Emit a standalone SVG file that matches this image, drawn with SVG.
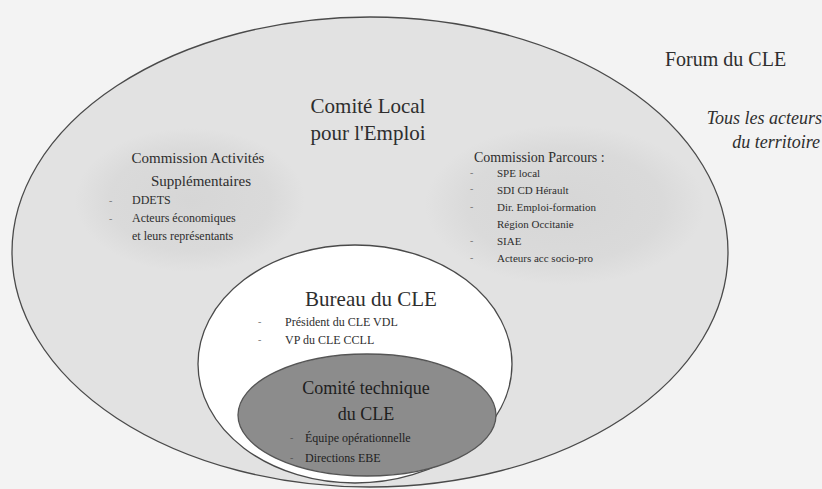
<svg xmlns="http://www.w3.org/2000/svg" width="822" height="489" viewBox="0 0 822 489" font-family="'Liberation Serif', 'Times New Roman', 'DejaVu Serif', serif">
<defs>
<radialGradient id="blob" cx="0.5" cy="0.5" r="0.5">
<stop offset="0" stop-color="#d6d6d6"/>
<stop offset="0.7" stop-color="#dadada"/>
<stop offset="1" stop-color="#e2e2e2"/>
</radialGradient>
</defs>
<style>
text{fill:#2e2e2e}
.h1{font-size:21px}
.h2{font-size:15px}
.h3{font-size:14px}
.it{font-size:18px;font-style:italic}
.li{font-size:12px}
.ls{font-size:11px}
.b{font-size:10px;fill:#777}
.c{text-anchor:middle}
.r{text-anchor:end}
</style>
<rect width="822" height="489" fill="#f3f3f3"/>
<g id="forum">
<text x="665" y="66" style="font-size:20px">Forum du CLE</text>
<text class="it r" x="822" y="124">Tous les acteurs</text>
<text class="it r" x="820" y="148">du territoire</text>
</g>
<g id="cle">
<ellipse cx="370" cy="252" rx="358" ry="235" fill="#e2e2e2" stroke="#4a4a4a" stroke-width="1.3"/>
<text class="h1 c" x="368" y="113">Comité Local</text>
<text class="h1 c" x="368" y="140">pour l'Emploi</text>
</g>
<g id="commission-activites">
<ellipse cx="190" cy="200" rx="115" ry="72" fill="url(#blob)"/>
<text class="h2 c" x="198" y="163">Commission Activités</text>
<text class="h2 c" x="201" y="186">Supplémentaires</text>
<text class="b" x="109" y="204">-</text>
<text class="li" x="132" y="204">DDETS</text>
<text class="b" x="109" y="222">-</text>
<text class="li" x="132" y="222">Acteurs économiques</text>
<text class="li" x="132" y="240">et leurs représentants</text>
</g>
<g id="commission-parcours">
<ellipse cx="565" cy="205" rx="140" ry="80" fill="url(#blob)"/>
<text class="h3" x="474" y="162">Commission Parcours :</text>
<text class="b" x="470" y="176">-</text>
<text class="ls" x="497" y="177">SPE local</text>
<text class="b" x="470" y="192">-</text>
<text class="ls" x="497" y="194">SDI CD Hérault</text>
<text class="b" x="470" y="210">-</text>
<text class="ls" x="497" y="211">Dir. Emploi-formation</text>
<text class="ls" x="497" y="228">Région Occitanie</text>
<text class="b" x="470" y="244">-</text>
<text class="ls" x="497" y="245">SIAE</text>
<text class="b" x="470" y="261">-</text>
<text class="ls" x="497" y="262">Acteurs acc socio-pro</text>
</g>
<g id="bureau">
<ellipse cx="355" cy="364" rx="157" ry="119" fill="#ffffff" stroke="#4a4a4a" stroke-width="1.3"/>
<text class="h1 c" x="371" y="306">Bureau du CLE</text>
<text class="b" x="258" y="325">-</text>
<text class="li" x="285" y="326">Président du CLE VDL</text>
<text class="b" x="258" y="343">-</text>
<text class="li" x="285" y="344">VP du CLE CCLL</text>
</g>
<g id="comite-technique">
<ellipse cx="367" cy="415" rx="129" ry="61" fill="#8c8c8c" stroke="#555" stroke-width="1.3"/>
<text class="c" x="366" y="394" style="font-size:18px;fill:#1e1e1e">Comité technique</text>
<text class="c" x="366" y="420" style="font-size:18px;fill:#1e1e1e">du CLE</text>
<text class="b" x="290" y="441" style="fill:#555">-</text>
<text class="li" x="305" y="442" style="fill:#1e1e1e">Équipe opérationnelle</text>
<text class="b" x="290" y="461" style="fill:#555">-</text>
<text class="li" x="305" y="462" style="fill:#1e1e1e">Directions EBE</text>
</g>
</svg>
